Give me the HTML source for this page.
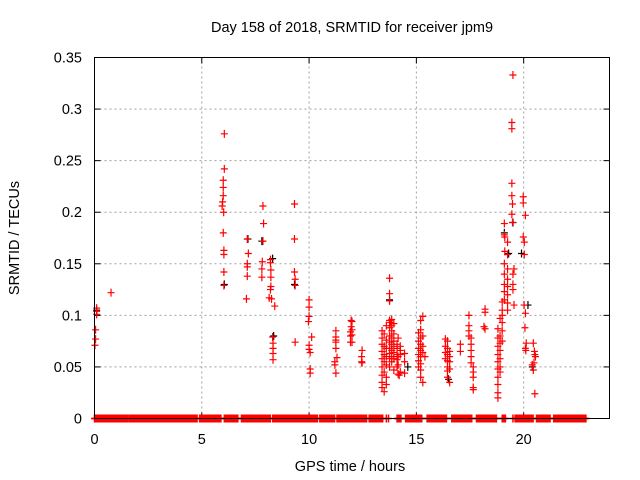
<!DOCTYPE html>
<html><head><meta charset="utf-8"><style>
html,body{margin:0;padding:0;background:#fff;}
svg{display:block;font-family:"Liberation Sans",sans-serif;}
</style></head><body>
<svg id="chart" width="640" height="480" viewBox="0 0 640 480" xmlns="http://www.w3.org/2000/svg">
<rect x="0" y="0" width="640" height="480" fill="#fff"/>
<text x="352" y="32" font-size="14.5" text-anchor="middle" fill="#000">Day 158 of 2018, SRMTID for receiver jpm9</text>
<text x="350" y="471" font-size="14.5" text-anchor="middle" fill="#000">GPS time / hours</text>
<text x="0" y="0" font-size="14.5" text-anchor="middle" fill="#000" transform="translate(19,238) rotate(-90)">SRMTID / TECUs</text>
<g id="grid"></g>
<g id="ticks"></g>
<g id="series-black"></g>
<g id="series-red"></g>
<rect x="94.5" y="57.5" width="515" height="361" fill="none" stroke="#000" stroke-width="1"/>
</svg>
<script>
const xTicks=[0,5,10,15,20];
const xTickLabels=["0","5","10","15","20"];
const yTicks=[0,0.05,0.1,0.15,0.2,0.25,0.3,0.35];
const yTickLabels=["0","0.05","0.1","0.15","0.2","0.25","0.3","0.35"];
// zero-valued runs (hours)
const zeroRuns=[[0,1.55],[1.6,4.8],[4.9,5.9],[6.05,6.7],[6.85,6.85],[6.9,8.2],[8.3,8.45],[8.5,10.4],[10.5,11.2],[11.3,12.7],[12.8,13.45],[13.6,13.6],[13.7,13.7],[14.1,14.3],[14.5,15.25],[15.5,16.4],[16.65,17.6],[17.8,18.75],[19.0,19.15],[19.5,19.5],[19.6,20.45],[20.6,21.25],[21.4,21.95],[22.0,22.9]];
const redT=[0.02,0.05,0.05,0.1,0.1,0.1,0.77,
6.05,6.05,6.0,6.0,6.0,5.97,5.95,6.02,6.0,6.03,6.03,6.03,6.03,
7.12,7.17,7.12,7.12,7.12,7.08,
7.85,7.88,7.85,7.82,7.8,7.8,8.2,8.2,8.22,8.22,8.22,8.2,8.14,8.25,8.4,8.3,8.32,8.32,8.32,8.32,
9.32,9.32,9.32,9.35,9.35,9.35,
10.0,10.0,10.0,9.97,10.12,10.0,10.0,10.05,10.05,10.05,
11.25,11.25,11.25,11.25,11.25,11.3,11.2,11.2,11.25,
11.96,11.96,11.93,11.93,11.93,12.0,12.0,12.0,12.0,
12.47,12.45,12.45,12.47,
13.4,13.4,13.4,13.4,13.4,13.4,13.4,13.4,13.4,
13.5,13.5,13.5,13.5,13.5,13.5,
13.6,13.6,13.6,13.6,13.6,13.6,13.6,
13.75,13.75,13.75,13.75,13.8,13.75,13.75,13.75,13.75,13.75,13.75,13.75,
13.85,13.85,13.85,13.85,13.85,13.85,13.85,13.85,
13.95,13.95,13.95,13.95,13.95,13.95,13.95,
14.1,14.1,14.1,14.1,14.1,
14.15,14.15,14.15,14.15,14.2,
14.25,14.25,14.25,14.25,
14.45,14.45,14.45,
15.1,15.1,15.1,15.1,15.1,15.1,
15.2,15.2,15.2,15.2,15.2,15.2,15.2,15.2,15.2,
15.3,15.3,15.3,15.3,15.3,15.4,
16.35,16.35,16.35,16.35,
16.45,16.45,16.45,16.45,16.45,16.45,16.45,
16.55,16.55,16.55,16.55,16.55,
17.05,17.05,
17.45,17.45,17.45,17.45,
17.55,17.55,17.55,17.55,17.55,
17.65,17.65,17.65,17.65,17.65,
18.2,18.2,18.15,18.2,
18.8,18.8,18.8,18.8,18.8,18.8,18.8,18.8,18.8,18.8,
18.9,18.9,18.9,18.9,18.9,18.9,18.9,
19.0,19.0,19.0,19.0,19.0,19.0,
19.1,19.1,19.12,19.12,19.1,19.1,19.1,19.1,19.1,
19.25,19.25,19.25,19.25,19.25,19.25,19.25,19.25,
19.5,19.45,19.45,19.45,19.45,19.48,19.45,19.48,19.55,19.5,19.5,19.5,19.55,
19.98,19.98,19.98,20.03,20.03,20.02,
20.08,20.08,20.06,20.12,20.08,20.1,
20.45,20.5,20.52,20.48,20.45,20.4,20.52,20.55];
const redV=[0.071,0.077,0.086,0.107,0.104,0.101,0.122,
0.276,0.242,0.231,0.224,0.216,0.21,0.206,0.2,0.18,0.163,0.159,0.142,0.129,
0.174,0.16,0.15,0.147,0.138,0.116,
0.206,0.189,0.172,0.152,0.145,0.137,0.154,0.151,0.144,0.137,0.128,0.125,0.117,0.116,0.109,0.079,0.073,0.068,0.063,0.057,
0.208,0.174,0.142,0.135,0.129,0.074,
0.115,0.108,0.099,0.094,0.079,0.071,0.067,0.064,0.048,0.044,
0.085,0.079,0.076,0.074,0.068,0.059,0.055,0.052,0.044,
0.095,0.089,0.084,0.08,0.074,0.094,0.086,0.081,0.074,
0.066,0.06,0.055,0.054,
0.085,0.078,0.072,0.065,0.058,0.05,0.042,0.035,0.03,
0.082,0.07,0.062,0.055,0.045,0.026,
0.09,0.076,0.068,0.06,0.052,0.04,0.033,
0.136,0.121,0.114,0.095,0.093,0.088,0.08,0.074,0.068,0.063,0.058,0.05,
0.096,0.09,0.085,0.078,0.072,0.066,0.06,0.055,
0.092,0.082,0.075,0.07,0.064,0.058,0.047,
0.072,0.068,0.062,0.057,0.05,
0.078,0.06,0.052,0.043,0.042,
0.07,0.066,0.062,0.045,
0.063,0.055,0.044,
0.083,0.075,0.068,0.062,0.056,0.05,
0.095,0.086,0.078,0.072,0.066,0.06,0.053,0.047,0.04,
0.099,0.08,0.07,0.064,0.035,0.06,
0.077,0.07,0.064,0.058,
0.075,0.068,0.062,0.056,0.05,0.046,0.04,
0.065,0.06,0.055,0.048,0.035,
0.072,0.065,
0.1,0.09,0.085,0.08,
0.078,0.072,0.066,0.06,0.054,
0.05,0.045,0.04,0.03,0.028,
0.106,0.103,0.089,0.087,
0.087,0.078,0.07,0.062,0.055,0.048,0.04,0.033,0.025,0.02,
0.097,0.08,0.073,0.066,0.058,0.05,0.045,
0.113,0.105,0.1,0.093,0.085,0.075,
0.189,0.178,0.176,0.162,0.15,0.14,0.13,0.123,0.115,
0.171,0.159,0.145,0.135,0.128,0.12,0.112,0.105,
0.333,0.287,0.281,0.228,0.216,0.208,0.198,0.19,0.145,0.14,0.13,0.125,0.11,
0.215,0.209,0.176,0.159,0.171,0.11,
0.197,0.102,0.088,0.073,0.068,0.066,
0.073,0.065,0.062,0.054,0.047,0.052,0.024,0.06];
const blackT=[0.1,6.05,7.15,7.8,8.3,8.35,9.32,13.75,14.6,16.5,19.1,19.3,19.5,19.9,20.2,20.4];
const blackV=[0.105,0.13,0.174,0.172,0.155,0.08,0.13,0.115,0.05,0.038,0.18,0.16,0.19,0.16,0.11,0.05];

const NS="http://www.w3.org/2000/svg";
const X0=94.5,X1=609.5,Y0=418.5,Y1=57.5,XMAX=24,YMAX=0.35;
function xs(h){return X0+(X1-X0)*h/XMAX;}
function ys(v){return Y0-(Y0-Y1)*v/YMAX;}
function mk(tag,attrs,parent){const e=document.createElementNS(NS,tag);for(const k in attrs)e.setAttribute(k,attrs[k]);parent.appendChild(e);return e;}
const grid=document.getElementById('grid'),ticks=document.getElementById('ticks');
xTicks.forEach((t,i)=>{
  const x=xs(t);
  if(t>0){
    const g=mk('line',{x1:x,y1:Y0,x2:x,y2:Y1,stroke:'#a0a0a0','stroke-dasharray':'2,3'},grid);
    
    
  }
  const a=mk('line',{x1:x,y1:Y0,x2:x,y2:Y0-6,stroke:'#000'},ticks);
  
  
  const b=mk('line',{x1:x,y1:Y1,x2:x,y2:Y1+6,stroke:'#000'},ticks);
  
  
  const l=mk('text',{x:x,y:444,'font-size':'14.5','text-anchor':'middle'},ticks);
  l.textContent=xTickLabels[i];
  
  
});
yTicks.forEach((t,i)=>{
  const y=ys(t);
  if(t>0&&t<YMAX){
    const g=mk('line',{x1:X0,y1:y,x2:X1,y2:y,stroke:'#a0a0a0','stroke-dasharray':'2,3'},grid);
    
    
  }
  const a=mk('line',{x1:X0,y1:y,x2:X0+6,y2:y,stroke:'#000'},ticks);
  
  
  const b=mk('line',{x1:X1,y1:y,x2:X1-6,y2:y,stroke:'#000'},ticks);
  
  
  const l=mk('text',{x:82,y:y+5,'font-size':'14.5','text-anchor':'end'},ticks);
  l.textContent=yTickLabels[i];
  
  
});
function plus(parent,h,v,color,name,sw){
  const x=xs(h),y=ys(v);
  const p=mk('path',{d:'M'+(x-3.5)+' '+y+'H'+(x+3.5)+'M'+x+' '+(y-4)+'V'+(y+4),stroke:color,'stroke-width':sw||'1.2',fill:'none'},parent);
  
  
}
const sb=document.getElementById('series-black'),sr=document.getElementById('series-red');
blackT.forEach((t,i)=>plus(sb,t,blackV[i],'#000','point-black'));
zeroRuns.forEach(r=>{for(let h=r[0];h<=r[1]+1e-9;h+=0.03)plus(sr,h,0,'#f00','point-zero','1.5');});
redT.forEach((t,i)=>plus(sr,t,redV[i],'#f00','point-red'));
</script>
</body></html>
